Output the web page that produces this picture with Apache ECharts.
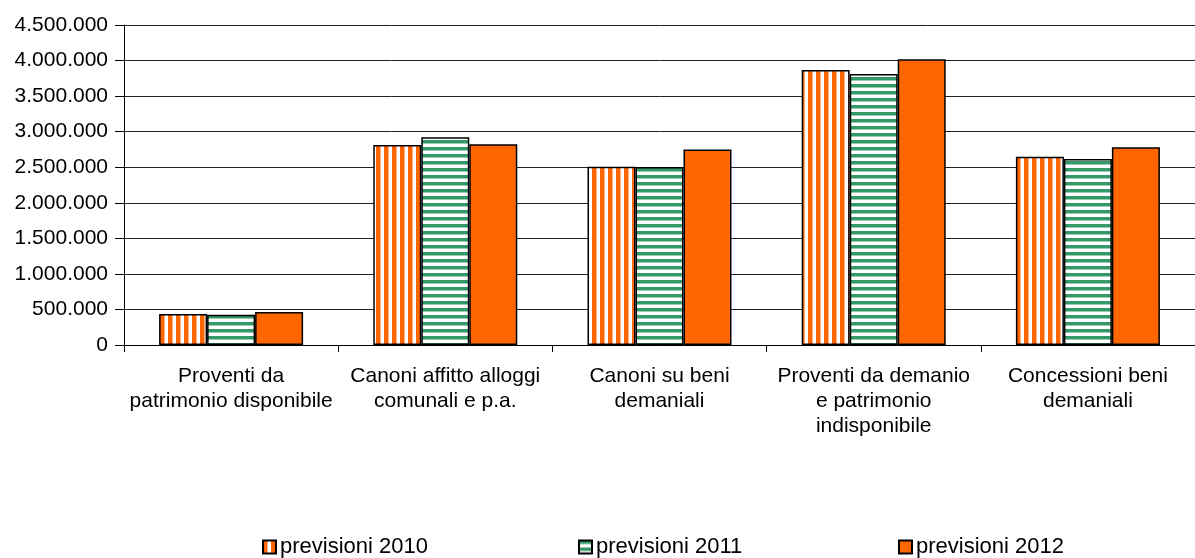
<!DOCTYPE html>
<html>
<head>
<meta charset="utf-8">
<script src="https://cdn.jsdelivr.net/npm/echarts@6/dist/echarts.min.js"></script>
<style>
html,body{margin:0;padding:0;background:#fff;}
#chart{width:1195px;height:558px;}
</style>
</head>
<body>
<div id="chart"></div>
<script>
const categories = [
  "Proventi da\npatrimonio disponibile",
  "Canoni affitto alloggi\ncomunali e p.a.",
  "Canoni su beni\ndemaniali",
  "Proventi da demanio\ne patrimonio\nindisponibile",
  "Concessioni beni\ndemaniali"
];
const seriesNames = ["previsioni 2010", "previsioni 2011", "previsioni 2012"];
const prev2010 = [436000, 2812000, 2507000, 3867000, 2648000];
const prev2011 = [426000, 2921000, 2503000, 3811000, 2616000];
const prev2012 = [464000, 2822000, 2750000, 4017000, 2780000];
const yTicks = [0, 500000, 1000000, 1500000, 2000000, 2500000, 3000000, 3500000, 4000000, 4500000];

const ORANGE = '#FF6600';
const GREEN = '#339966';
const FONT = 'Liberation Sans, Arial, sans-serif';
const FS = 21;

function vStripes() {
  const c = document.createElement('canvas');
  c.width = 8; c.height = 8;
  const g = c.getContext('2d');
  g.fillStyle = '#fff'; g.fillRect(0, 0, 8, 8);
  g.fillStyle = ORANGE; g.fillRect(0, 0, 4, 8);
  g.fillStyle = '#ffb27f'; g.fillRect(4, 0, 1, 8);
  return { image: c, repeat: 'repeat' };
}
function hStripes() {
  const c = document.createElement('canvas');
  c.width = 8; c.height = 7;
  const g = c.getContext('2d');
  g.fillStyle = '#fff'; g.fillRect(0, 0, 8, 7);
  g.fillStyle = GREEN; g.fillRect(0, 0, 8, 3);
  g.fillStyle = '#99ccb2'; g.fillRect(0, 3, 8, 1);
  return { image: c, repeat: 'repeat' };
}

function fmt(v) {
  return String(v).replace(/\B(?=(\d{3})+(?!\d))/g, '.');
}

const chart = echarts.init(document.getElementById('chart'), null, { renderer: 'canvas' });

const colors = [vStripes(), hStripes(), ORANGE];
const datas = [prev2010, prev2011, prev2012];
const legendLefts = [262, 578, 898];

const option = {
  animation: false,
  backgroundColor: '#fff',
  textStyle: { fontFamily: FONT },
  grid: { left: 124, top: 25, width: 1082, height: 320, containLabel: false },
  legend: seriesNames.map((n, i) => ({
    data: [n],
    left: legendLefts[i],
    top: 536,
    itemWidth: 13,
    itemHeight: 13,
    itemGap: 0,
    padding: 0,
    icon: 'rect',
    textStyle: { fontFamily: FONT, fontSize: 22, color: '#000', padding: [0, 0, 0, -1] }
  })),
  xAxis: {
    type: 'category',
    data: categories,
    axisLine: { lineStyle: { color: '#000', width: 1 } },
    axisTick: { show: true, length: 7, lineStyle: { color: '#000' }, alignWithLabel: false },
    axisLabel: { fontFamily: FONT, fontSize: FS, color: '#000', lineHeight: 25, margin: 19, interval: 0, align: 'center' }
  },
  yAxis: {
    type: 'value',
    min: 0,
    max: yTicks[yTicks.length - 1],
    interval: yTicks[1] - yTicks[0],
    axisLine: { show: true, lineStyle: { color: '#000', width: 1 } },
    axisTick: { show: true, length: 9, lineStyle: { color: '#000' } },
    axisLabel: { fontFamily: FONT, fontSize: FS, color: '#000', margin: 16, formatter: fmt },
    splitLine: { show: true, lineStyle: { color: '#222', width: 1 } }
  },
  series: seriesNames.map((n, i) => ({
    name: n,
    type: 'bar',
    data: datas[i],
    barWidth: 48,
    barGap: '0%',
    itemStyle: { color: colors[i], borderColor: '#000', borderWidth: 1.5 }
  }))
};
chart.setOption(option);
</script>
</body>
</html>
